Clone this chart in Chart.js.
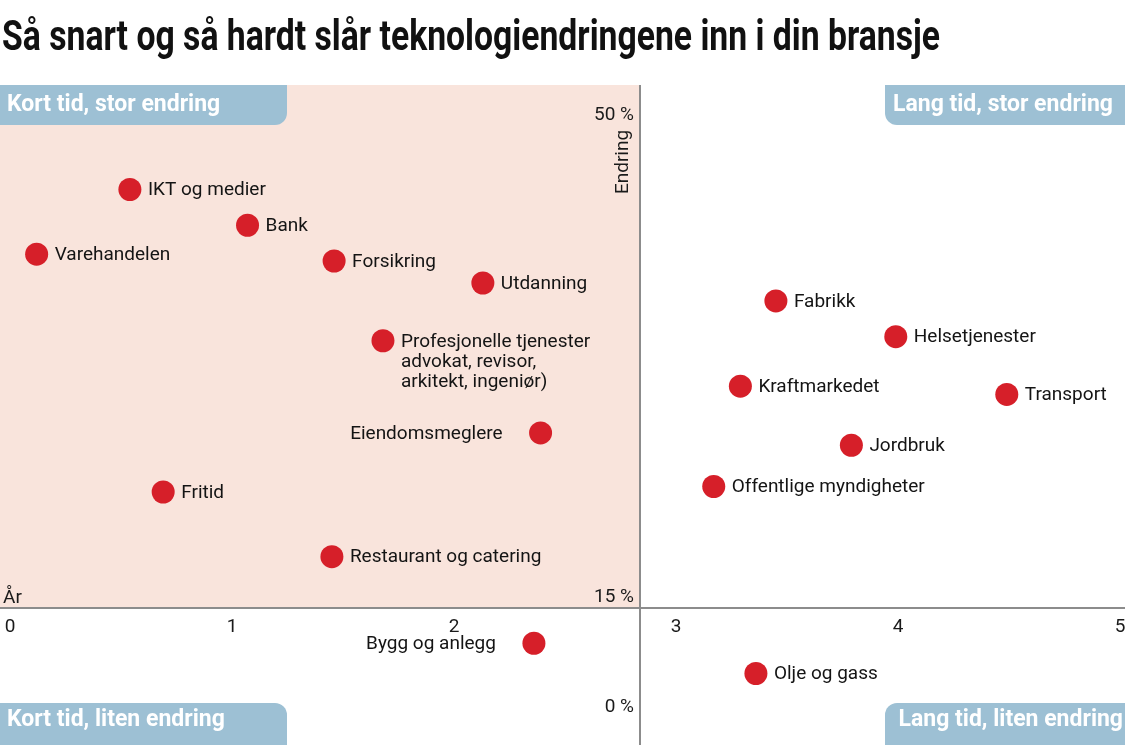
<!DOCTYPE html>
<html>
<head>
<meta charset="utf-8">
<script src="https://cdn.jsdelivr.net/npm/chart.js@4.4.0/dist/chart.umd.min.js"></script>
<style>
  html, body { margin: 0; padding: 0; background: #fff; }
  #wrap { width: 1125px; height: 752px; }
</style>
</head>
<body>
<div id="wrap"><canvas id="chart" width="1125" height="752"></canvas></div>
<script>
// Bransjer: hvor mange år før endringen slår inn (x) og hvor stor den blir (y, %)
const bransjer = ['IKT og medier', 'Bank', 'Varehandelen', 'Forsikring', 'Utdanning',
  'Profesjonelle tjenester\nadvokat, revisor,\narkitekt, ingeniør)', 'Eiendomsmeglere',
  'Fritid', 'Restaurant og catering', 'Bygg og anlegg', 'Olje og gass', 'Fabrikk',
  'Helsetjenester', 'Kraftmarkedet', 'Transport', 'Jordbruk', 'Offentlige myndigheter'];
const aar = [0.54, 1.07, 0.12, 1.46, 2.13, 1.68, 2.39, 0.69, 1.45, 2.36, 3.36, 3.45,
  3.99, 3.29, 4.49, 3.79, 3.17];
const endring = [45.4, 42.8, 40.7, 40.2, 38.6, 34.4, 27.7, 23.4, 18.7, 12.4, 10.2, 37.3,
  34.7, 31.1, 30.5, 26.8, 23.8];

const xTicks = [0, 1, 2, 3, 4, 5];
const yTickLabels = ['50 %', '15 %', '0 %'];
const yTickValues = [50, 15, 7];
const skilleX = 2.84;   // grense kort / lang tid
const skilleY = 15;     // grense liten / stor endring
const kvadranter = ['Kort tid, stor endring', 'Lang tid, stor endring',
  'Kort tid, liten endring', 'Lang tid, liten endring'];
const tittel = 'Så snart og så hardt slår teknologiendringene inn i din bransje';

const venstreEtikett = ['Eiendomsmeglere', 'Bygg og anlegg'];
const FONT = 'Roboto, "Liberation Sans", sans-serif';

const points = aar.map((x, i) => ({x: x, y: endring[i]}));

const bakgrunn = {
  id: 'bakgrunn',
  beforeDatasetsDraw(chart) {
    const ctx = chart.ctx, ca = chart.chartArea;
    const xs = chart.scales.x, ys = chart.scales.y;
    const vx = Math.round(xs.getPixelForValue(skilleX));
    const hy = Math.round(ys.getPixelForValue(skilleY));
    ctx.save();
    // fargelagt kvadrant
    ctx.fillStyle = '#f9e4dc';
    ctx.fillRect(0, ca.top, vx, hy - ca.top);
    // akser
    ctx.strokeStyle = '#8c8c8c';
    ctx.lineWidth = 2;
    ctx.beginPath();
    ctx.moveTo(0, hy); ctx.lineTo(chart.width, hy);
    ctx.moveTo(vx, ca.top); ctx.lineTo(vx, ca.bottom);
    ctx.stroke();

    // kvadrant-merkelapper
    const boxes = [
      {x: 0, y: ca.top, w: 287, h: 40, r: [0, 0, 12, 0], align: 'left', tx: 7, dy: 0},
      {x: 885, y: ca.top, w: chart.width - 885, h: 40, r: [0, 0, 0, 12], align: 'left', tx: 893, dy: 0},
      {x: 0, y: ca.bottom - 42, w: 287, h: 42, r: [0, 12, 0, 0], align: 'left', tx: 7, dy: -4},
      {x: 885, y: ca.bottom - 42, w: chart.width - 885, h: 42, r: [12, 0, 0, 0], align: 'right', tx: chart.width - 2, dy: -4}
    ];
    ctx.font = 'bold 23px ' + FONT;
    ctx.textBaseline = 'middle';
    boxes.forEach((b, i) => {
      ctx.fillStyle = '#9dc0d4';
      ctx.beginPath();
      ctx.roundRect(b.x, b.y, b.w, b.h, b.r);
      ctx.fill();
      ctx.fillStyle = '#ffffff';
      ctx.textAlign = b.align;
      ctx.fillText(kvadranter[i], b.tx, b.y + b.h / 2 + b.dy);
    });

    // akseetiketter
    ctx.fillStyle = '#1a1a1a';
    ctx.font = '19px ' + FONT;
    ctx.textAlign = 'center';
    ctx.textBaseline = 'middle';
    xTicks.forEach(t => ctx.fillText(String(t), xs.getPixelForValue(t), hy + 19));
    ctx.textAlign = 'right';
    ctx.textBaseline = 'alphabetic';
    yTickLabels.forEach((l, i) => ctx.fillText(l, vx - 6, ys.getPixelForValue(yTickValues[i]) - 6));
    ctx.textAlign = 'left';
    ctx.fillText('År', 3, hy - 5);
    ctx.save();
    ctx.translate(vx - 17, 162);
    ctx.rotate(-Math.PI / 2);
    ctx.textAlign = 'center';
    ctx.textBaseline = 'middle';
    ctx.fillText('Endring', 0, 0);
    ctx.restore();

    // tittel
    ctx.font = 'bold 42px ' + FONT;
    ctx.textAlign = 'left';
    ctx.textBaseline = 'alphabetic';
    ctx.fillStyle = '#111';
    const w = ctx.measureText(tittel).width;
    ctx.save();
    ctx.translate(2, 50);
    ctx.scale(938 / w, 1);
    ctx.fillText(tittel, 0, 0);
    ctx.restore();
    ctx.restore();
  },
  afterDatasetsDraw(chart) {
    const ctx = chart.ctx;
    const meta = chart.getDatasetMeta(0);
    ctx.save();
    ctx.fillStyle = '#141414';
    ctx.font = '19px ' + FONT;
    ctx.textBaseline = 'middle';
    meta.data.forEach((el, i) => {
      const lines = bransjer[i].split('\n');
      const left = venstreEtikett.includes(bransjer[i]);
      ctx.textAlign = left ? 'right' : 'left';
      const x = left ? el.x - 38 : el.x + 18;
      lines.forEach((l, j) => ctx.fillText(l, x, el.y + 1 + j * 20));
    });
    ctx.restore();
  }
};

new Chart(document.getElementById('chart'), {
  type: 'scatter',
  data: {
    datasets: [{
      label: 'Bransjer',
      data: points,
      backgroundColor: '#d61f29',
      borderWidth: 0,
      pointRadius: 11.5,
      pointHoverRadius: 11.5
    }]
  },
  options: {
    responsive: false,
    animation: false,
    layout: { autoPadding: false, padding: { left: 10, right: 5, top: 85, bottom: 7 } },
    plugins: { legend: { display: false }, tooltip: { enabled: false } },
    scales: {
      x: { type: 'linear', min: 0, max: 5, display: false },
      y: { type: 'linear', min: 5, max: 53, display: false }
    }
  },
  plugins: [bakgrunn]
});
</script>
</body>
</html>
